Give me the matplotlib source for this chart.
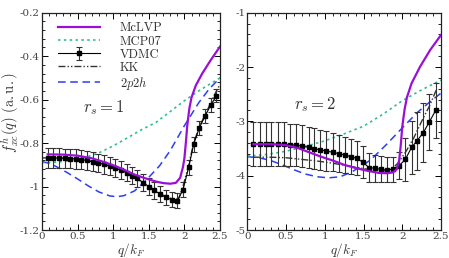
import numpy as np
import matplotlib
matplotlib.use("Agg")
import matplotlib.pyplot as plt
from matplotlib.ticker import MultipleLocator

plt.rcParams['mathtext.fontset'] = 'cm'
plt.rcParams['font.family'] = ['DejaVu Serif']
plt.rcParams['font.serif'] = ['cmr10', 'DejaVu Serif']

# ---------------- r_s = 1 ----------------
q_vdmc1 = [0.08, 0.16, 0.24, 0.32, 0.40, 0.48, 0.55, 0.63, 0.71, 0.79, 0.87, 0.95,
           1.03, 1.11, 1.19, 1.26, 1.34, 1.42, 1.50, 1.58, 1.66, 1.74, 1.82, 1.90,
           1.98, 2.06, 2.13, 2.21, 2.29, 2.37, 2.45]
v_vdmc1 = [-0.868, -0.868, -0.869, -0.870, -0.871, -0.873, -0.876, -0.880, -0.885,
           -0.891, -0.898, -0.906, -0.915, -0.925, -0.936, -0.950, -0.963, -0.982,
           -1.000, -1.018, -1.035, -1.050, -1.060, -1.066, -1.015, -0.912, -0.806,
           -0.729, -0.676, -0.625, -0.583]
e_vdmc1 = [0.046, 0.046, 0.046, 0.045, 0.045, 0.045, 0.044, 0.044, 0.043, 0.043,
           0.042, 0.042, 0.041, 0.041, 0.040, 0.040, 0.039, 0.039, 0.038, 0.038,
           0.037, 0.036, 0.035, 0.034, 0.034, 0.033, 0.033, 0.032, 0.031, 0.031, 0.030]

q_mclvp1 = [0.08, 0.3, 0.5, 0.7, 0.9, 1.1, 1.3, 1.45, 1.6, 1.7, 1.8, 1.88, 1.94,
            1.98, 2.0, 2.02, 2.04, 2.07, 2.1, 2.16, 2.25, 2.37, 2.5]
v_mclvp1 = [-0.852, -0.853, -0.858, -0.870, -0.890, -0.915, -0.945, -0.962, -0.977,
            -0.984, -0.987, -0.983, -0.960, -0.910, -0.870, -0.800, -0.720, -0.640,
            -0.590, -0.535, -0.480, -0.418, -0.356]

q_mcp1 = [0.0, 0.2, 0.4, 0.6, 0.8, 1.0, 1.2, 1.4, 1.6, 1.8, 2.0, 2.2, 2.4, 2.5]
v_mcp1 = [-0.890, -0.888, -0.880, -0.867, -0.845, -0.813, -0.776, -0.738, -0.705,
          -0.655, -0.605, -0.560, -0.520, -0.500]

q_kk1 = [0.0, 0.3, 0.6, 0.9, 1.2, 1.5, 1.7, 1.85, 1.92, 1.98, 2.06, 2.13, 2.21,
         2.29, 2.37, 2.45, 2.5]
v_kk1 = [-0.868, -0.870, -0.878, -0.900, -0.936, -1.000, -1.040, -1.060, -1.055,
         -1.000, -0.900, -0.800, -0.725, -0.670, -0.615, -0.560, -0.530]

q_2p2h1 = [0.0, 0.1, 0.2, 0.35, 0.5, 0.65, 0.8, 0.95, 1.05, 1.15, 1.3, 1.45, 1.55,
           1.65, 1.8, 2.0, 2.2, 2.35, 2.5]
v_2p2h1 = [-0.885, -0.893, -0.908, -0.935, -0.965, -0.997, -1.025, -1.043, -1.047,
           -1.042, -1.020, -0.975, -0.940, -0.905, -0.835, -0.720, -0.615, -0.550,
           -0.500]

# ---------------- r_s = 2 ----------------
q_vdmc2 = [0.08, 0.16, 0.24, 0.31, 0.39, 0.47, 0.55, 0.63, 0.71, 0.79, 0.86, 0.94,
           1.02, 1.10, 1.18, 1.26, 1.34, 1.41, 1.49, 1.57, 1.65, 1.73, 1.80, 1.88,
           1.96, 2.04, 2.12, 2.19, 2.27, 2.35, 2.43]
v_vdmc2 = [-3.42, -3.42, -3.42, -3.42, -3.42, -3.42, -3.43, -3.44, -3.455, -3.48,
           -3.50, -3.525, -3.545, -3.57, -3.595, -3.62, -3.65, -3.68, -3.75, -3.85,
           -3.865, -3.885, -3.895, -3.88, -3.815, -3.70, -3.48, -3.36, -3.21, -3.01,
           -2.80]
e_vdmc2 = [0.40, 0.40, 0.40, 0.40, 0.40, 0.40, 0.39, 0.39, 0.38, 0.38, 0.37, 0.37,
           0.36, 0.35, 0.34, 0.33, 0.32, 0.31, 0.29, 0.27, 0.25, 0.24, 0.23, 0.23,
           0.25, 0.40, 0.49, 0.54, 0.54, 0.51, 0.50]

q_mclvp2 = [0.08, 0.3, 0.5, 0.65, 0.8, 0.95, 1.1, 1.25, 1.4, 1.55, 1.7, 1.8, 1.88,
            1.93, 1.96, 1.98, 2.0, 2.03, 2.06, 2.12, 2.23, 2.36, 2.5]
v_mclvp2 = [-3.42, -3.42, -3.44, -3.49, -3.57, -3.65, -3.72, -3.80, -3.86, -3.91,
            -3.95, -3.955, -3.94, -3.88, -3.72, -3.45, -3.10, -2.78, -2.56, -2.30,
            -1.994, -1.687, -1.41]

q_mcp2 = [0.0, 0.25, 0.5, 0.75, 1.0, 1.25, 1.5, 1.75, 2.0, 2.25, 2.5]
v_mcp2 = [-3.64, -3.61, -3.55, -3.46, -3.36, -3.23, -3.09, -2.87, -2.62, -2.42, -2.24]

q_kk2 = [0.08, 0.3, 0.5, 0.7, 0.9, 1.1, 1.3, 1.5, 1.7, 1.8, 1.88, 1.95, 2.05, 2.15,
         2.25, 2.35, 2.44]
v_kk2 = [-3.66, -3.66, -3.67, -3.70, -3.73, -3.77, -3.82, -3.87, -3.91, -3.91,
         -3.86, -3.76, -3.55, -3.30, -3.00, -2.72, -2.42]

q_2p2h2 = [0.0, 0.15, 0.3, 0.45, 0.6, 0.75, 0.9, 1.05, 1.2, 1.35, 1.5, 1.6, 1.8,
           2.0, 2.2, 2.35, 2.5]
v_2p2h2 = [-3.65, -3.67, -3.72, -3.80, -3.89, -3.97, -4.02, -4.04, -4.02, -3.93,
           -3.80, -3.70, -3.42, -3.12, -2.83, -2.65, -2.48]

PURPLE = '#9a0fd6'
TEAL = '#2fbf96'
BLUE = '#2a3ff0'

W, H = 449, 258
fig = plt.figure(figsize=(W / 100, H / 100), dpi=100)
ax1 = fig.add_axes([42 / W, 1 - 230 / H, 178 / W, 217.3 / H])
ax2 = fig.add_axes([247.3 / W, 1 - 230 / H, 193.7 / W, 217.3 / H])

def draw(ax, qm, vm, qc, vc, qv, vv, ev, qk, vk, qb, vb):
    ax.plot(qb, vb, color=BLUE, lw=1.1, dashes=(5, 3), label='$2p2h$', zorder=2)
    ax.plot(qk, vk, color='#333333', lw=1.0, dashes=(5, 1.5, 1, 1.5, 1, 1.5),
            label='KK', zorder=2)
    ax.errorbar(qv, vv, yerr=ev, color='black', lw=0.8, marker='s', ms=2.5,
                ecolor='#333333', elinewidth=0.8, capsize=2, capthick=0.8,
                label='VDMC', zorder=3)
    ax.plot(qc, vc, color=TEAL, lw=1.2, dashes=(1.5, 2), label='MCP07', zorder=2)
    ax.plot(qm, vm, color=PURPLE, lw=1.6, label='McLVP', zorder=4)

draw(ax1, q_mclvp1, v_mclvp1, q_mcp1, v_mcp1, q_vdmc1, v_vdmc1, e_vdmc1,
     q_kk1, v_kk1, q_2p2h1, v_2p2h1)
draw(ax2, q_mclvp2, v_mclvp2, q_mcp2, v_mcp2, q_vdmc2, v_vdmc2, e_vdmc2,
     q_kk2, v_kk2, q_2p2h2, v_2p2h2)

xt = [0, 0.5, 1, 1.5, 2, 2.5]
xtl = ['0', '0.5', '1', '1.5', '2', '2.5']
yt1 = [-1.2, -1.0, -0.8, -0.6, -0.4, -0.2]
ytl1 = ['-1.2', '-1', '-0.8', '-0.6', '-0.4', '-0.2']
yt2 = [-5, -4, -3, -2, -1]
ytl2 = ['-5', '-4', '-3', '-2', '-1']

for ax, yt, ytl, ylim, ymin in [(ax1, yt1, ytl1, (-1.2, -0.2), 0.04),
                                (ax2, yt2, ytl2, (-5, -1), 0.2)]:
    ax.set_xlim(0, 2.5)
    ax.set_ylim(*ylim)
    ax.set_xticks(xt)
    ax.set_xticklabels(xtl, fontsize=7.5, color='#444444')
    ax.set_yticks(yt)
    ax.set_yticklabels(ytl, fontsize=7.5, color='#444444')
    ax.xaxis.set_minor_locator(MultipleLocator(0.1))
    ax.yaxis.set_minor_locator(MultipleLocator(ymin))
    ax.tick_params(which='both', direction='in', top=True, right=True, pad=1.5)
    ax.tick_params(which='major', length=4, width=0.7)
    ax.tick_params(which='minor', length=2, width=0.6)
    for s in ax.spines.values():
        s.set_linewidth(0.9)
        s.set_color('#222222')
    ax.set_xlabel('$q/k_F$', fontsize=9.5, color='#333333')
    ax.xaxis.set_label_coords(0.5, -0.05, transform=ax.transAxes)
    ax.xaxis.label.set_va('top')

ax1.set_ylabel(r'$f^h_{xc}(q)\ \mathrm{(a.u.)}$', fontsize=10.5, color='#333333')
ax1.yaxis.set_label_coords(-0.12, 0.54)
ax1.text(0.87, -0.635, '$r_s = 1$', fontsize=12, ha='center', va='center',
         color='#333333')
ax2.text(0.87, -2.70, '$r_s = 2$', fontsize=12, ha='center', va='center',
         color='#333333')

h, l = ax1.get_legend_handles_labels()
order = [l.index(n) for n in ['McLVP', 'MCP07', 'VDMC', 'KK', '$2p2h$']]
leg = ax1.legend([h[i] for i in order], [l[i] for i in order], loc='upper left',
                 bbox_to_anchor=(0.05, 0.99), frameon=False, fontsize=9,
                 handlelength=3.3, handletextpad=1.6, labelspacing=0.08,
                 borderaxespad=0.2)
for t in leg.get_texts():
    t.set_color('#333333')
    t.set_fontfamily(['cmr10', 'DejaVu Serif'])

fig.savefig('out.png', dpi=100)
